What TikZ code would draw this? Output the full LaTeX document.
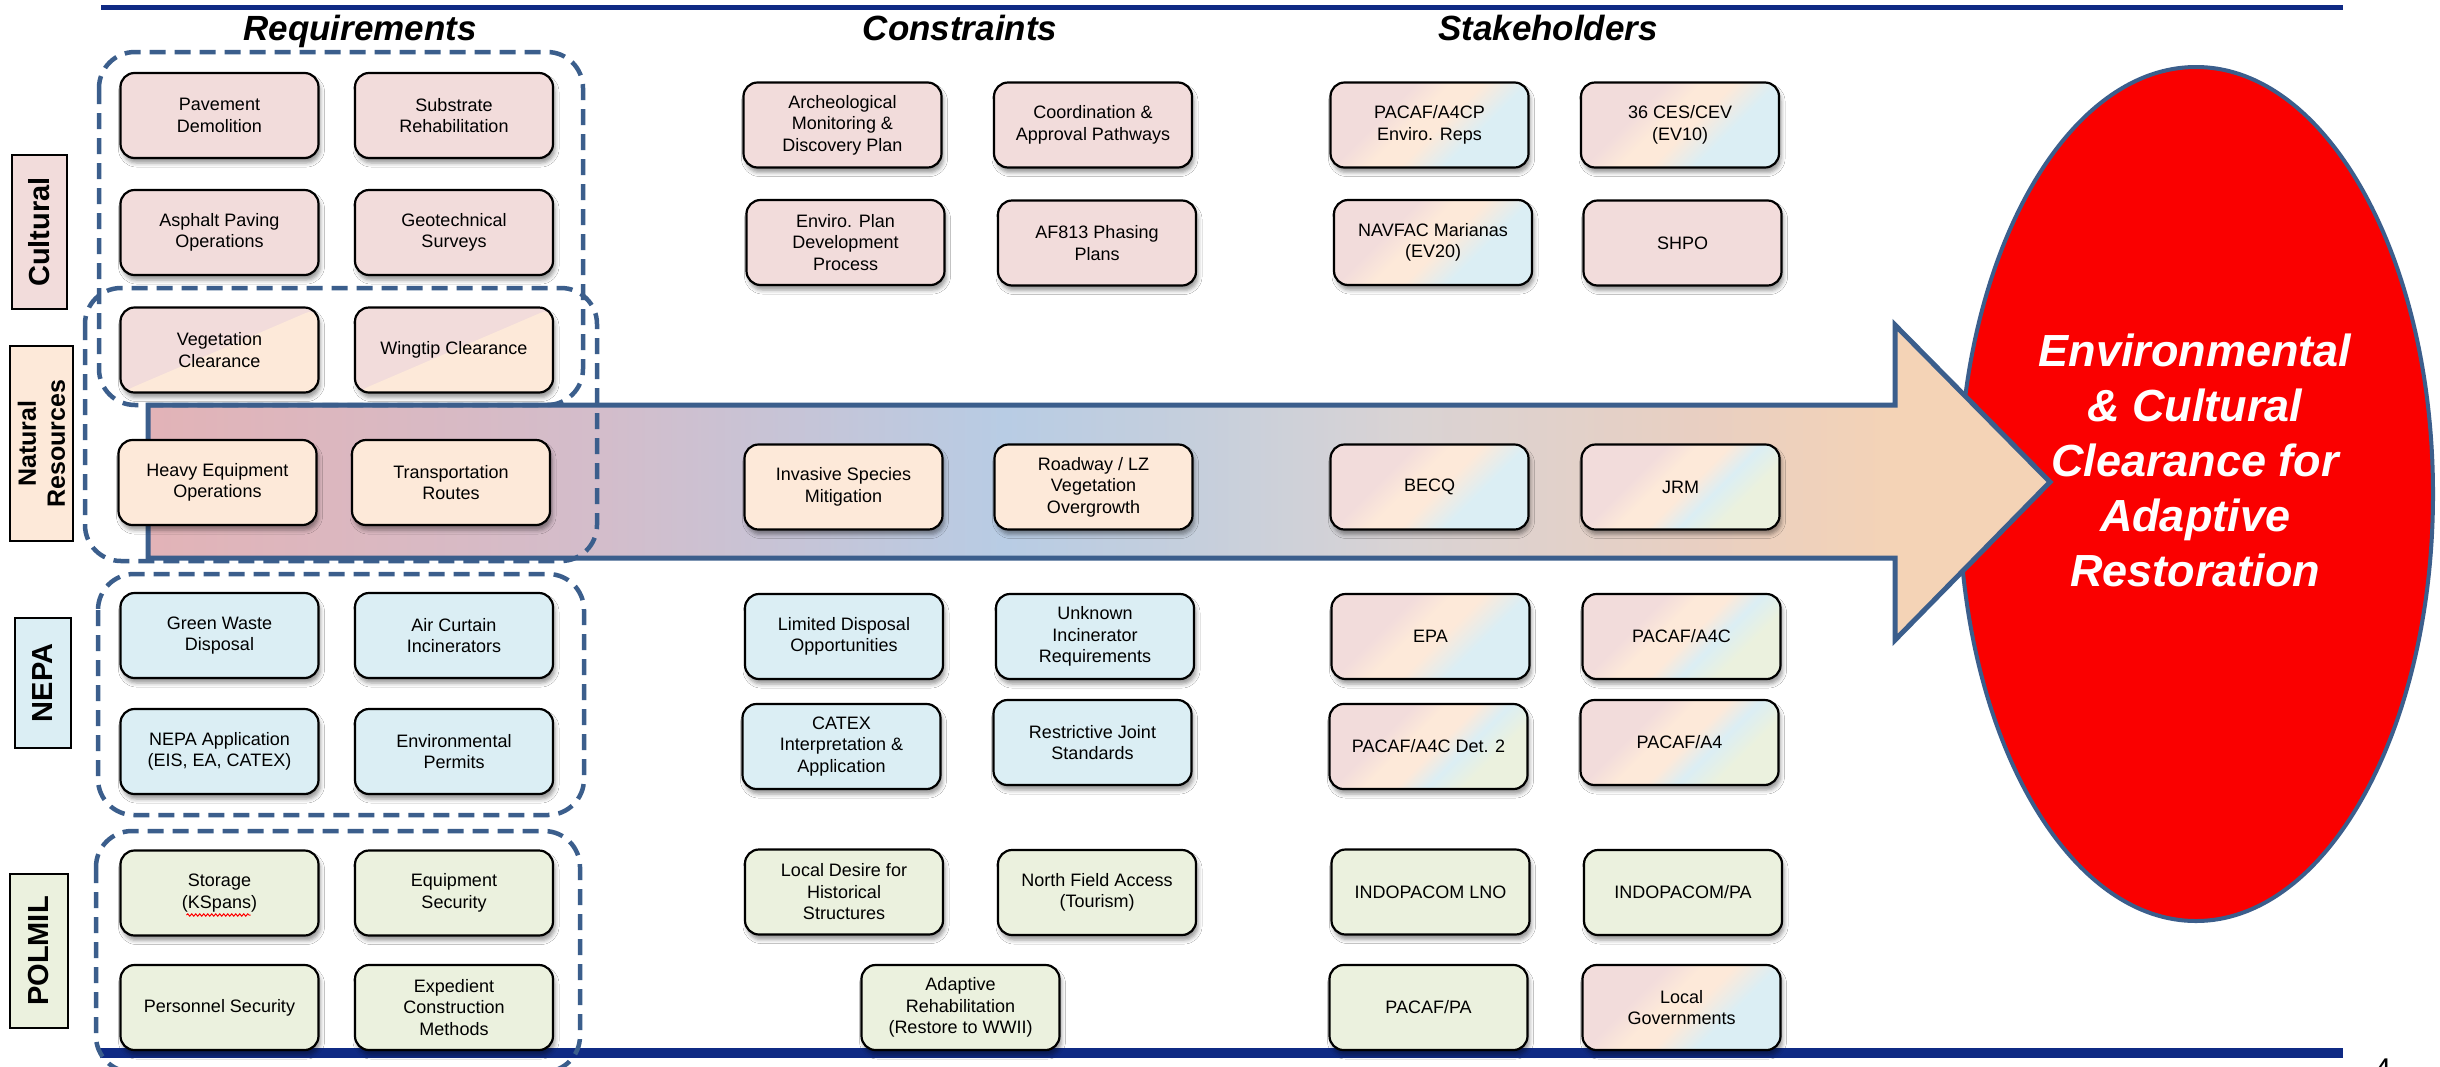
\documentclass[tikz,border=0pt]{standalone}
\usepackage{fontspec}
\setmainfont{Liberation Sans}
\usetikzlibrary{shapes.geometric,shadows.blur,calc,decorations.pathmorphing}

% palette
\definecolor{navy}{HTML}{0F2A84}
\definecolor{steel}{HTML}{3B5E8C}
\definecolor{cpink}{HTML}{F2DCDB}
\definecolor{cpeach}{HTML}{FDE9D9}
\definecolor{cblue}{HTML}{DBEEF4}
\definecolor{cgreen}{HTML}{EBF1DE}
\definecolor{goalred}{HTML}{FA0000}
\definecolor{bandA}{HTML}{E2B3B7}
\definecolor{bandB}{HTML}{D3BDCB}
\definecolor{bandC}{HTML}{B8CCE4}
\definecolor{bandD}{HTML}{C6CFDC}
\definecolor{bandE}{HTML}{D9D3D4}
\definecolor{bandF}{HTML}{E9CFC1}
\definecolor{bandG}{HTML}{F4D3B6}

% band colour along the big arrow
\pgfdeclarehorizontalshading{flowband}{100bp}{%
color(0bp)=(bandA); color(25bp)=(bandA); color(37bp)=(bandB); color(47.5bp)=(bandC); color(52.7bp)=(bandD); color(58bp)=(bandE); color(66bp)=(bandF); color(71bp)=(bandG); color(75bp)=(bandG); color(100bp)=(bandG)}
% mixed stakeholder fills
\pgfdeclareverticalshading{stakeA}{100bp}{%
color(0bp)=(cblue); color(36bp)=(cblue); color(47bp)=(cpeach); color(55bp)=(cpeach); color(64bp)=(cpink); color(100bp)=(cpink)}
\pgfdeclareverticalshading{stakeB}{100bp}{%
color(0bp)=(cgreen); color(31bp)=(cgreen); color(40bp)=(cblue); color(48bp)=(cpeach); color(56bp)=(cpeach); color(64bp)=(cpink); color(100bp)=(cpink)}

\newcommand\dgCard{\fontsize{18pt}{21.5pt}\selectfont}
\newcommand\dgHead{\fontsize{35pt}{40pt}\selectfont\bfseries\itshape}
\newcommand\dgTag{\fontsize{29pt}{33pt}\selectfont\bfseries}
\newcommand\dgTagSmall{\fontsize{25pt}{29pt}\selectfont\bfseries}
\newcommand\dgGoal{\fontsize{45pt}{55pt}\selectfont\bfseries\itshape}

\begin{document}
\begin{tikzpicture}[x=1pt,y=-1pt,
  card/.style={draw=black, line width=2.2pt, rounded corners=14pt,
    minimum width=198pt, minimum height=85pt, align=center, font=\dgCard,
    inner sep=2pt,
    blur shadow={shadow xshift=2pt, shadow yshift=-5pt, shadow blur radius=4pt, shadow opacity=40}},
  culture/.style={card, fill=cpink},
  nature/.style={card, fill=cpeach},
  nepa/.style={card, fill=cblue},
  polmil/.style={card, fill=cgreen},
  mixed/.style={card, fill=cpink,
    path picture={\fill[cpeach] (path picture bounding box.south west) --
      (path picture bounding box.north east) --
      (path picture bounding box.south east) -- cycle;}},
  multi/.style={card, shade, shading=stakeA, shading angle=45},
  multig/.style={card, shade, shading=stakeB, shading angle=45},
  group/.style={draw=steel, line width=4.5pt, dash pattern=on 16pt off 9pt,
    rounded corners=36pt},
  tag/.style={draw=black, line width=2pt, font=\dgTag, rotate=90,
    align=center, inner sep=0pt},
  heading/.style={font=\dgHead, anchor=base, inner sep=0pt},
  goal/.style={ellipse, draw=steel, fill=goalred, line width=4pt,
    minimum width=474pt, minimum height=854pt, inner sep=0pt}
]
\useasboundingbox (0,0) rectangle (2440,1066);
\fill[white] (0,0) rectangle (2440,1066);

% top and bottom rules
\draw[navy, line width=5pt] (101,7.5) -- (2343,7.5);
\draw[navy, line width=10pt] (100,1053) -- (2343,1053);

% outcome ellipse
\node[goal] (goal) at (2196,494) {};

% flow arrow
\shadedraw[shading=flowband, draw=steel, line width=5pt, line join=miter]
  (148,405) -- (1895,405) -- (1895,325) -- (2050,482) -- (1895,640)
  -- (1895,558) -- (148,558) -- cycle;

% requirement groups
\draw[group] (99,52) rectangle (583,405);
\draw[group] (85,288) rectangle (597,561);
\draw[group] (98,574) rectangle (584,815);
\draw[group] (96,831) rectangle (580,1072);

% column headings
\node[heading] (hreq) at (360,40) {Requirements};
\node[heading] (hcon) at (960,40) {Constraints};
\node[heading] (hsta) at (1548,40) {Stakeholders};

% category tags
\node[tag, fill=cpink, minimum width=154pt, minimum height=55pt] (tcult) at (39.5,232) {Cultural};
\node[tag, fill=cpeach, minimum width=195pt, minimum height=63pt, font=\dgTagSmall] (tnat) at (41.5,443.5) {Natural\\Resources};
\node[tag, fill=cblue, minimum width=130pt, minimum height=56pt] (tnepa) at (43,683) {NEPA};
\node[tag, fill=cgreen, minimum width=154pt, minimum height=58pt] (tpol) at (39,951) {POLMIL};

% requirements
\node[culture] (pave) at (219.5,115.5) {Pavement\\Demolition};
\node[culture] (subs) at (454,115.5) {Substrate\\Rehabilitation};
\node[culture] (asph) at (219.5,232.5) {Asphalt Paving\\Operations};
\node[culture] (geot) at (454,232.5) {Geotechnical\\Surveys};
\node[mixed] (vege) at (219.5,350) {Vegetation\\Clearance};
\node[mixed] (wing) at (454,350) {Wingtip Clearance};
\node[nature] (heavy) at (217.5,482.5) {Heavy Equipment\\Operations};
\node[nature] (trans) at (451,482.5) {Transportation\\Routes};
\node[nepa] (greenw) at (219.5,635.5) {Green Waste\\Disposal};
\node[nepa] (aircur) at (454,635.5) {Air Curtain\\Incinerators};
\node[nepa] (nepaapp) at (219.5,751.5) {NEPA Application\\(EIS, EA, CATEX)};
\node[nepa] (envper) at (454,751.5) {Environmental\\Permits};
\node[polmil] (storage) at (219.5,893) {Storage\\(KSpans)};
\node[polmil] (equip) at (454,893) {Equipment\\Security};
\node[polmil] (person) at (219.5,1007.5) {Personnel Security};
\node[polmil] (exped) at (454,1007.5) {Expedient\\Construction\\Methods};

% spell-check squiggle under KSpans
\draw[red, line width=1pt, decorate, decoration={snake, amplitude=1.2pt, segment length=4pt}]
  ($(storage.center)+(-33,22)$) -- ($(storage.center)+(31,22)$);

% constraints
\node[culture] (arch) at (842.5,125) {Archeological\\Monitoring \&\\Discovery Plan};
\node[culture] (coord) at (1093,125) {Coordination \&\\Approval Pathways};
\node[culture] (envplan) at (845.5,242.5) {Enviro. Plan\\Development\\Process};
\node[culture] (af813) at (1097,243) {AF813 Phasing\\Plans};
\node[nature] (invas) at (843.5,487) {Invasive Species\\Mitigation};
\node[nature] (road) at (1093.5,487) {Roadway / LZ\\Vegetation\\Overgrowth};
\node[nepa] (limdisp) at (844,636.5) {Limited Disposal\\Opportunities};
\node[nepa] (unkinc) at (1095,636.5) {Unknown\\Incinerator\\Requirements};
\node[nepa] (catex) at (841.5,746.5) {CATEX\\Interpretation \&\\Application};
\node[nepa] (restr) at (1092.5,742.5) {Restrictive Joint\\Standards};
\node[polmil] (locdes) at (844,892) {Local Desire for\\Historical\\Structures};
\node[polmil] (north) at (1097,892.5) {North Field Access\\(Tourism)};
\node[polmil] (adapt) at (960.5,1007.5) {Adaptive\\Rehabilitation\\(Restore to WWII)};

% stakeholders
\node[multi] (a4cp) at (1429.5,125) {PACAF/A4CP\\Enviro. Reps};
\node[multi] (ces) at (1680,125) {36 CES/CEV\\(EV10)};
\node[multi] (navfac) at (1433,242.5) {NAVFAC Marianas\\(EV20)};
\node[culture] (shpo) at (1682.5,243) {SHPO};
\node[multi] (becq) at (1429.5,487) {BECQ};
\node[multig] (jrm) at (1680.5,487) {JRM};
\node[multi] (epa) at (1430.5,636.5) {EPA};
\node[multig] (a4c) at (1681.5,636.5) {PACAF/A4C};
\node[multig] (a4cdet) at (1428.5,746.5) {PACAF/A4C Det. 2};
\node[multig] (a4) at (1679.5,742.5) {PACAF/A4};
\node[polmil] (lno) at (1430.5,892) {INDOPACOM LNO};
\node[polmil] (indopa) at (1683,892.5) {INDOPACOM/PA};
\node[polmil] (pacpa) at (1428.5,1007.5) {PACAF/PA};
\node[multi] (locgov) at (1681.5,1007.5) {Local\\Governments};

% outcome text
\node[font=\dgGoal, text=white, align=center, inner sep=0pt] (goaltext) at (2195,460)
  {Environmental\\\& Cultural\\Clearance for\\Adaptive\\Restoration};

% page number, mostly below the page edge
\node[anchor=north, inner sep=0pt, font=\fontsize{30pt}{30pt}\selectfont] (pagenum) at (2383,1059) {4};
\end{tikzpicture}
\end{document}
